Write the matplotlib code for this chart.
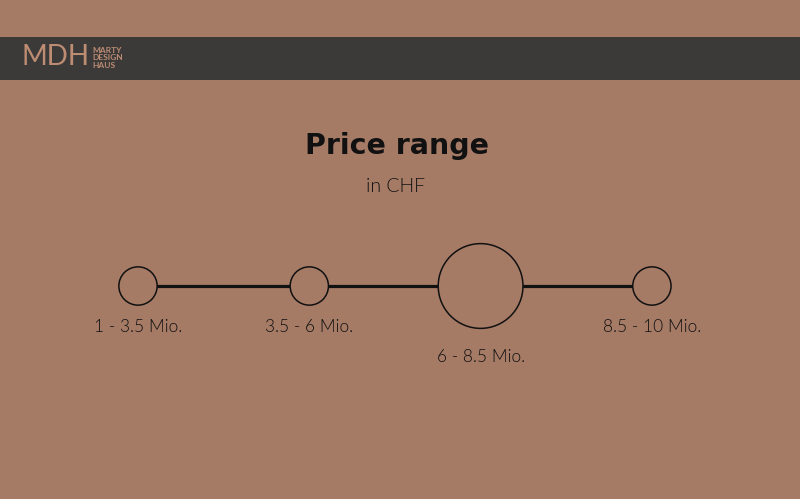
import matplotlib
matplotlib.use("Agg")
import matplotlib.pyplot as plt
from matplotlib.patches import Rectangle

# ---- data ----
categories = ["1 - 3.5 Mio.", "3.5 - 6 Mio.", "6 - 8.5 Mio.", "8.5 - 10 Mio."]
weights = [1.0, 1.0, 4.9, 1.0]          # relative circle area
label_offset = [0, 0, 1, 0]             # 1 = label placed lower (big circle)
title = "Price range"
subtitle = "in CHF"
brand = "MDH"
brand_lines = ["MARTY", "DESIGN", "HAUS"]

BG = "#A67B66"
BAND = "#3B3A39"
LOGO = "#BD8C73"
INK = "#111111"
FONT = ["Lato", "DejaVu Sans"]

W, H = 800, 499
fig = plt.figure(figsize=(W / 100, H / 100), dpi=100, facecolor=BG)
ax = fig.add_axes([0, 0, 1, 1])
ax.set_facecolor(BG)
ax.set_xlim(0, W)
ax.set_ylim(H, 0)
ax.axis("off")

# header band
ax.add_patch(Rectangle((0, 37), W, 43, facecolor=BAND, edgecolor="none", zorder=1))
ax.text(21, 57, brand, color=LOGO, fontsize=20, family=FONT, fontweight="normal",
        va="center", ha="left")
for i, t in enumerate(brand_lines):
    ax.text(92, 50 + i * 7.8, t, color=LOGO, fontsize=6, family=FONT,
            fontweight="bold", va="center", ha="left")

# titles
ax.text(397, 146, title, color=INK, fontsize=20.5, fontweight="bold",
        family=["DejaVu Sans"], ha="center", va="center")
ax.text(395, 187, subtitle, color=INK, fontsize=14, family=FONT, fontweight=300,
        ha="center", va="center")

# timeline in its own axes mapped on category index
tl = fig.add_axes([0, 0, 1, 1], facecolor="none")
x0, step = 138, 171.3
tl.set_xlim(-x0 / step, (W - x0) / step)
tl.set_ylim(H, 0)
tl.axis("off")
xs = list(range(len(categories)))
y_line = 286
tl.plot([xs[0], xs[-1]], [y_line, y_line], color=INK, lw=2.3, zorder=2,
        solid_capstyle="butt")
base_s = 760
tl.scatter(xs, [y_line] * len(xs), s=[base_s * w for w in weights],
           facecolor=BG, edgecolor=INK, linewidths=1.1, zorder=3)
for x, lab, off in zip(xs, categories, label_offset):
    tl.text(x, 327 + off * 30, lab, color=INK, fontsize=12.5, family=FONT,
            fontweight=300, ha="center", va="center")

fig.savefig("out.png", dpi=100, facecolor=BG)
